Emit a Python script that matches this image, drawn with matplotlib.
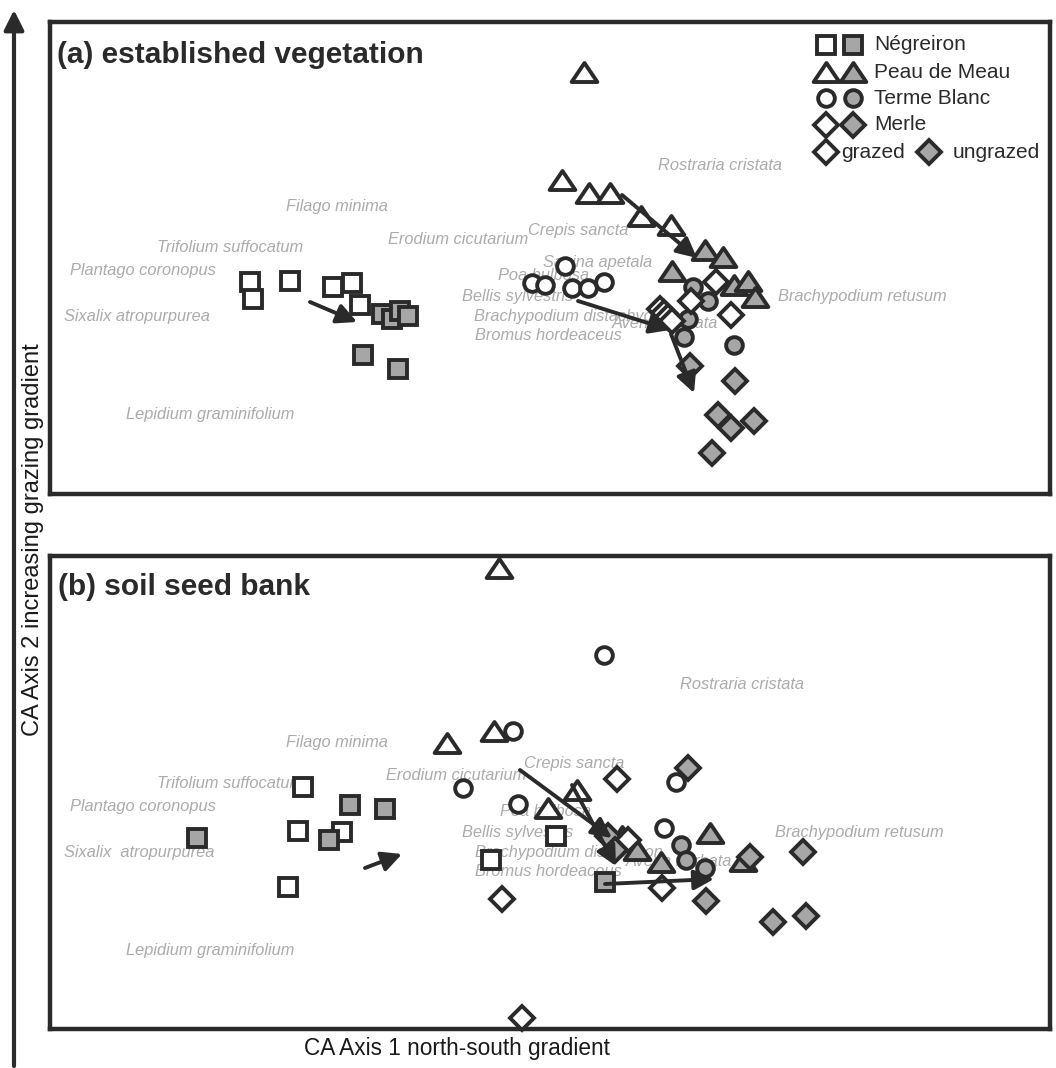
import numpy as np
import matplotlib.pyplot as plt
from matplotlib.path import Path

plt.rcParams['font.family'] = ['Liberation Sans', 'DejaVu Sans']

W, H = 1056, 1068
ink = '#2a2a2a'
fill_grey = '#a6a6a6'
label_grey = '#ababab'

# ---- site scores (picture units, x to the right, y downwards) ----
# panel (a) established vegetation
a_neg_gr_x = [250, 253, 290, 333, 352, 360]
a_neg_gr_y = [282, 299, 281, 287, 283, 305]
a_neg_un_x = [382, 392, 400, 408, 363, 398]
a_neg_un_y = [314, 319, 311, 316, 355, 369]
a_peau_gr_x = [584, 562, 589, 610, 641, 671]
a_peau_gr_y = [72, 180, 193, 193, 216, 225]
a_peau_un_x = [705, 723, 672, 734, 748, 755]
a_peau_un_y = [250, 257, 271, 285, 281, 297]
a_terme_gr_x = [565, 532, 545, 572, 588, 604]
a_terme_gr_y = [266, 283, 285, 288, 288, 282]
a_terme_un_x = [693, 708, 688, 684, 734]
a_terme_un_y = [287, 301, 319, 337, 345]
a_merle_gr_x = [716, 691, 731, 660, 664, 668, 672]
a_merle_gr_y = [282, 301, 315, 309, 313, 317, 321]
a_merle_un_x = [690, 735, 718, 731, 754, 712]
a_merle_un_y = [366, 381, 415, 428, 421, 453]
a_arrow_x0 = [310, 622, 578, 671]
a_arrow_y0 = [302, 195, 301, 334]
a_arrow_x1 = [357, 697, 670, 694]
a_arrow_y1 = [322, 258, 330, 393]

# panel (b) soil seed bank
b_neg_gr_x = [303, 298, 342, 288, 491, 556]
b_neg_gr_y = [787, 831, 832, 887, 860, 836]
b_neg_un_x = [197, 350, 385, 329, 605]
b_neg_un_y = [838, 805, 809, 840, 882]
b_peau_gr_x = [499, 447, 494, 577, 548]
b_peau_gr_y = [568, 743, 731, 790, 808]
b_peau_un_x = [622, 637, 661, 710, 743]
b_peau_un_y = [836, 850, 862, 833, 861]
b_terme_gr_x = [604, 513, 463, 518, 664, 676]
b_terme_gr_y = [655, 731, 788, 804, 828, 782]
b_terme_un_x = [681, 686, 705]
b_terme_un_y = [845, 860, 868]
b_merle_gr_x = [617, 502, 522, 662, 628]
b_merle_gr_y = [779, 899, 1018, 888, 840]
b_merle_un_x = [688, 750, 803, 706, 773, 806, 608, 615]
b_merle_un_y = [768, 857, 852, 901, 922, 916, 836, 850]
b_arrow_x0 = [365, 520, 572, 605]
b_arrow_y0 = [868, 770, 785, 884]
b_arrow_x1 = [402, 612, 616, 714]
b_arrow_y1 = [854, 838, 866, 879]

# ---- species labels ----
a_species = ["Rostraria cristata", "Filago minima", "Trifolium suffocatum",
             "Erodium cicutarium", "Crepis sancta", "Plantago coronopus",
             "Sagina apetala", "Poa bulbosa", "Bellis sylvestris",
             "Brachypodium distachyon", "Avena barbata", "Bromus hordeaceus",
             "Brachypodium retusum", "Sixalix atropurpurea",
             "Lepidium graminifolium"]
a_species_x = [658, 286, 157, 388, 528, 70, 543, 498, 462, 474, 612, 475, 778, 64, 126]
a_species_y = [165, 207, 248, 240, 230, 271, 263, 275, 296, 316, 323, 335, 297, 317, 415]

b_species = ["Rostraria cristata", "Filago minima", "Trifolium suffocatum",
             "Erodium cicutarium", "Crepis sancta", "Plantago coronopus",
             "Poa bulbosa", "Bellis sylvestris", "Brachypodium distachyon",
             "Avena barbata", "Bromus hordeaceus", "Brachypodium retusum",
             "Sixalix  atropurpurea", "Lepidium graminifolium"]
b_species_x = [680, 286, 157, 386, 524, 70, 500, 462, 475, 626, 475, 775, 64, 126]
b_species_y = [685, 743, 784, 776, 764, 807, 811, 832, 852, 861, 871, 832, 853, 951]

legend_sites = ["Négreiron", "Peau de Meau", "Terme Blanc", "Merle"]

tri = Path([(-1, -0.74), (1, -0.74), (0, 0.74), (-1, -0.74)],
           [Path.MOVETO, Path.LINETO, Path.LINETO, Path.CLOSEPOLY])
site_marker = {"Négreiron": ('s', 13.5), "Peau de Meau": (tri, 18.5),
               "Terme Blanc": ('o', 12), "Merle": ('D', 11.8)}
mew = 2.8

fig = plt.figure(figsize=(W / 100, H / 100), dpi=100)
bg = fig.add_axes([0, 0, 1, 1])
bg.set_xlim(0, W)
bg.set_ylim(H, 0)
bg.axis('off')


def make_panel(l, t, r, b):
    ax = fig.add_axes([l / W, 1 - b / H, (r - l) / W, (b - t) / H])
    ax.set_xlim(l, r)
    ax.set_ylim(b, t)
    ax.set_xticks([])
    ax.set_yticks([])
    for s in ax.spines.values():
        s.set_linewidth(3.2)
        s.set_color(ink)
    return ax


def sites(ax, site, x, y, grazed):
    m, ms = site_marker[site]
    ax.plot(x, y, ls='none', marker=m, ms=ms, mew=mew, mec=ink,
            mfc='white' if grazed else fill_grey, clip_on=False, zorder=3)


def arrows(ax, x0, y0, x1, y1):
    for i in range(len(x0)):
        ax.annotate('', xy=(x1[i], y1[i]), xytext=(x0[i], y0[i]),
                    arrowprops=dict(arrowstyle='-|>,head_length=0.6,head_width=0.3',
                                    lw=2.8, color=ink, shrinkA=0, shrinkB=0,
                                    mutation_scale=20), zorder=4)


def labels(ax, names, xs, ys):
    for n, x, y in zip(names, xs, ys):
        ax.text(x, y, n, fontsize=11.8, style='italic', color=label_grey,
                ha='left', va='center', zorder=2)


ax_a = make_panel(50, 22, 1050, 494)
ax_b = make_panel(50, 556, 1050, 1029)

labels(ax_a, a_species, a_species_x, a_species_y)
labels(ax_b, b_species, b_species_x, b_species_y)

sites(ax_a, "Négreiron", a_neg_gr_x, a_neg_gr_y, True)
sites(ax_a, "Négreiron", a_neg_un_x, a_neg_un_y, False)
sites(ax_a, "Peau de Meau", a_peau_gr_x, a_peau_gr_y, True)
sites(ax_a, "Peau de Meau", a_peau_un_x, a_peau_un_y, False)
sites(ax_a, "Terme Blanc", a_terme_gr_x, a_terme_gr_y, True)
sites(ax_a, "Terme Blanc", a_terme_un_x, a_terme_un_y, False)
sites(ax_a, "Merle", a_merle_gr_x, a_merle_gr_y, True)
sites(ax_a, "Merle", a_merle_un_x, a_merle_un_y, False)
arrows(ax_a, a_arrow_x0, a_arrow_y0, a_arrow_x1, a_arrow_y1)

sites(ax_b, "Négreiron", b_neg_gr_x, b_neg_gr_y, True)
sites(ax_b, "Négreiron", b_neg_un_x, b_neg_un_y, False)
sites(ax_b, "Peau de Meau", b_peau_gr_x, b_peau_gr_y, True)
sites(ax_b, "Peau de Meau", b_peau_un_x, b_peau_un_y, False)
sites(ax_b, "Terme Blanc", b_terme_gr_x, b_terme_gr_y, True)
sites(ax_b, "Terme Blanc", b_terme_un_x, b_terme_un_y, False)
sites(ax_b, "Merle", b_merle_gr_x, b_merle_gr_y, True)
sites(ax_b, "Merle", b_merle_un_x, b_merle_un_y, False)
arrows(ax_b, b_arrow_x0, b_arrow_y0, b_arrow_x1, b_arrow_y1)

ax_a.text(57, 55, "(a) established vegetation", fontsize=21.5, fontweight='bold',
          color=ink, ha='left', va='center')
ax_b.text(58, 587, "(b) soil seed bank", fontsize=21.5, fontweight='bold',
          color=ink, ha='left', va='center')

# legend, drawn by hand in panel (a)
leg_y = [45, 72, 98, 125]
for site, y in zip(legend_sites, leg_y):
    sites(ax_a, site, [826], [y], True)
    sites(ax_a, site, [853], [y], False)
    ax_a.text(874, y, site, fontsize=15, color=ink, ha='left', va='center')
sites(ax_a, "Merle", [826], [152], True)
ax_a.text(841, 152, "grazed", fontsize=15, color=ink, ha='left', va='center')
sites(ax_a, "Merle", [929], [152], False)
ax_a.text(953, 152, "ungrazed", fontsize=15, color=ink, ha='left', va='center')

# outer gradient axes
bg.annotate('', xy=(14, 10), xytext=(14, 1066),
            arrowprops=dict(arrowstyle='-|>,head_length=0.6,head_width=0.3',
                            lw=3, color=ink, shrinkA=0, shrinkB=0, mutation_scale=20))
bg.annotate('', xy=(1064, 1065), xytext=(13, 1065),
            arrowprops=dict(arrowstyle='-|>,head_length=0.6,head_width=0.3',
                            lw=3, color=ink, shrinkA=0, shrinkB=0, mutation_scale=20))
bg.text(457, 1049, "CA Axis 1 north-south gradient", fontsize=16.3, color='#1a1a1a',
        ha='center', va='center')
bg.text(33, 540, "CA Axis 2 increasing grazing gradient", fontsize=17,
        color='#1a1a1a', rotation=90, ha='center', va='center')

fig.savefig('out.png', dpi=100)
